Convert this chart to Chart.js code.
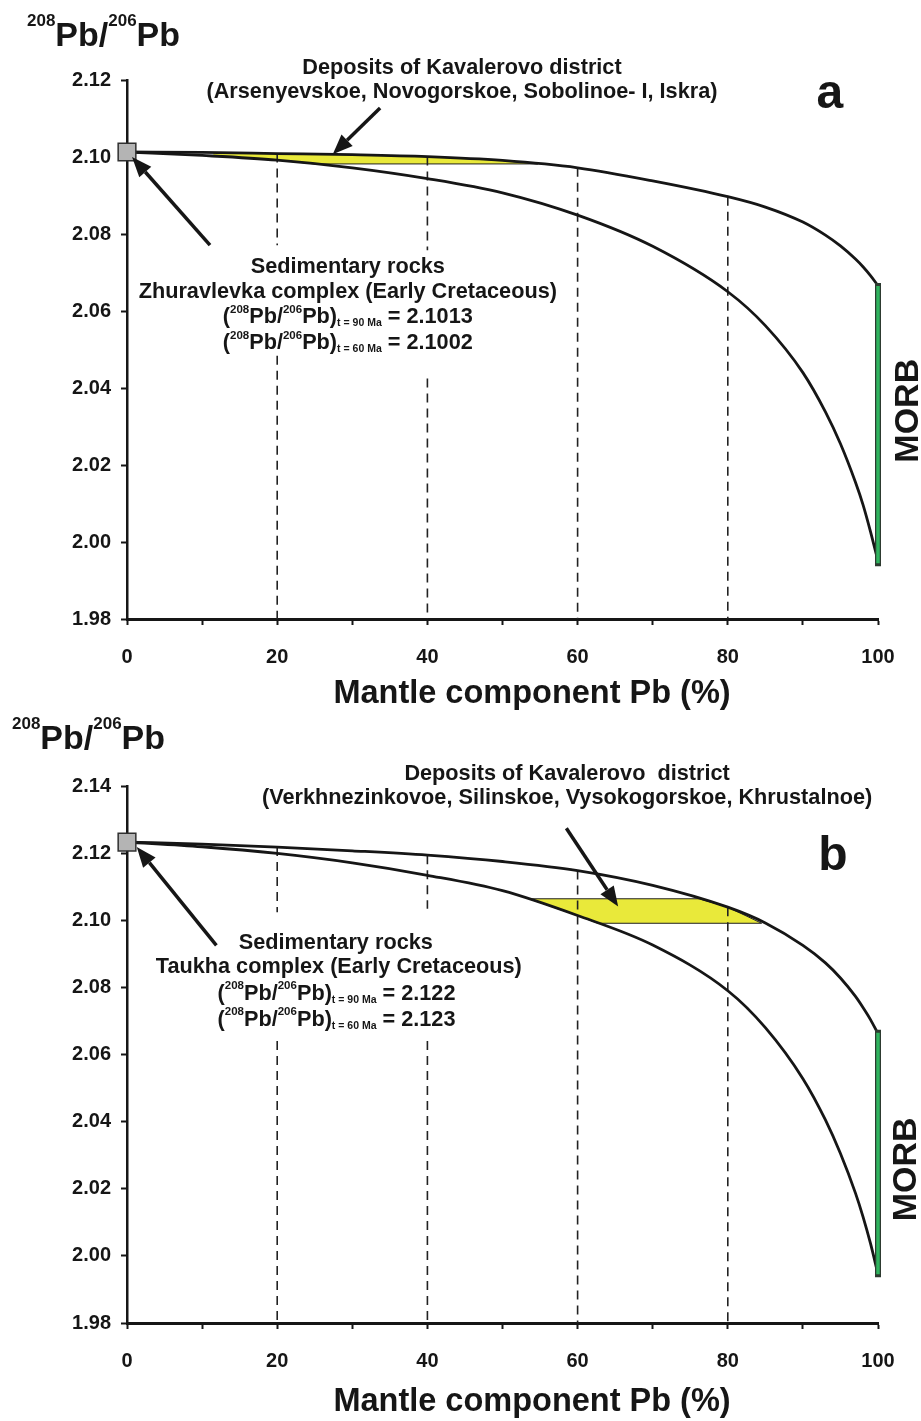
<!DOCTYPE html>
<html>
<head>
<meta charset="utf-8">
<script src="https://cdn.jsdelivr.net/npm/chart.js@4.4.1/dist/chart.umd.min.js"></script>
<style>
  body { margin: 0; background: #fff; }
  canvas { display: block; }
</style>
</head>
<body>
<canvas id="chartA" width="921" height="710"></canvas>
<canvas id="chartB" width="921" height="711"></canvas>
<script>
// ---- shared axis ticks
const xTicks  = [0, 10, 20, 30, 40, 50, 60, 70, 80, 90, 100];
const yTicksA = [1.98, 2.00, 2.02, 2.04, 2.06, 2.08, 2.10, 2.12];
const yTicksB = [1.98, 2.00, 2.02, 2.04, 2.06, 2.08, 2.10, 2.12, 2.14];

// ---- panel a: mixing curves
const startA  = 2.1013;
const upperAX = [0, 10, 20, 30, 40, 50, 60, 70, 80, 85, 90, 93, 95, 97, 98, 99, 100];
const upperAY = [2.1013, 2.1012, 2.1009, 2.1006, 2.1001, 2.0991, 2.0972, 2.0938, 2.0897, 2.0870, 2.0831, 2.0797, 2.0769, 2.0735, 2.0715, 2.0692, 2.0666];
const lowerAX = [0, 10, 20, 30, 40, 50, 60, 70, 80, 85, 90, 93, 95, 97, 98, 99, 100];
const lowerAY = [2.1013, 2.1004, 2.0992, 2.0972, 2.0944, 2.0907, 2.0849, 2.0768, 2.0650, 2.0562, 2.0440, 2.0338, 2.0255, 2.0155, 2.0097, 2.0027, 1.9950];
const fieldAX = [11.5, 20, 30, 40, 50, 54.7, 25, 20, 11.5];
const fieldAY = [2.1011, 2.1009, 2.1006, 2.1001, 2.0991, 2.0982, 2.0982, 2.0992, 2.1003];
const dashXA   = [20, 40, 60, 80];
const dashGapA = [[2.0771, 2.0484], [2.0758, 2.0425], null, null];
const ratiosA  = [['90', '2.1013'], ['60', '2.1002']];

// ---- panel b
const startB  = 2.1233;
const upperBX = [0, 10, 20, 30, 40, 50, 60, 70, 80, 85, 90, 93, 95, 97, 98, 99, 100];
const upperBY = [2.1233, 2.1227, 2.1218, 2.1207, 2.1194, 2.1175, 2.1148, 2.1104, 2.1039, 2.0992, 2.0925, 2.0873, 2.0828, 2.0773, 2.0740, 2.0704, 2.0662];
const lowerBX = [0, 10, 20, 30, 40, 50, 60, 70, 80, 85, 90, 93, 95, 97, 98, 99, 100];
const lowerBY = [2.1233, 2.1219, 2.1199, 2.1171, 2.1134, 2.1088, 2.1014, 2.0926, 2.0790, 2.0680, 2.0528, 2.0405, 2.0305, 2.0187, 2.0117, 2.0037, 1.9945];
const fieldBX = [53.5, 76.2, 80, 84.5, 62.7, 60, 53.5];
const fieldBY = [2.1064, 2.1064, 2.1039, 2.0991, 2.0991, 2.1014, 2.1064];
const dashXB   = [20, 40, 60, 80];
const dashGapB = [[2.1024, 2.0640], [2.1034, 2.0640], null, null];
const ratiosB  = [['90', '2.122'], ['60', '2.123']];

// MORB range at 100 % mantle
const morbY = [2.0665, 1.9945];

const INK = '#161616';
const FONT = '"Liberation Sans", Arial, Helvetica, sans-serif';
const NOTE = 21.7;
Chart.defaults.font.family = FONT;
Chart.defaults.color = INK;

const pts = (xs, ys) => xs.map((x, i) => ({x: x, y: ys[i]}));

function ratioRuns(age, val) {
  return [
    {t: '(', s: NOTE}, {t: '208', s: 11.5, dy: -10.5}, {t: 'Pb/', s: NOTE},
    {t: '206', s: 11.5, dy: -10.5}, {t: 'Pb)', s: NOTE},
    {t: 't = ' + age + ' Ma', s: 10.5, dy: 3}, {t: ' = ' + val, s: NOTE}
  ];
}

function drawRuns(ctx, runs, x, base, align) {
  let w = 0;
  runs.forEach(r => { ctx.font = 'bold ' + r.s + 'px ' + FONT; r.w = ctx.measureText(r.t).width; w += r.w; });
  let cx = align === 'left' ? x : x - w / 2;
  runs.forEach(r => {
    ctx.font = 'bold ' + r.s + 'px ' + FONT;
    ctx.fillText(r.t, cx, base + (r.dy || 0));
    cx += r.w;
  });
}

function drawArrow(ctx, x1, y1, x2, y2) {
  const a = Math.atan2(y2 - y1, x2 - x1), head = 20, half = 8;
  const bx = x2 - head * Math.cos(a), by = y2 - head * Math.sin(a);
  ctx.lineWidth = 3.5;
  ctx.beginPath(); ctx.moveTo(x1, y1); ctx.lineTo(bx, by); ctx.stroke();
  ctx.beginPath();
  ctx.moveTo(x2, y2);
  ctx.lineTo(bx + half * Math.sin(a), by - half * Math.cos(a));
  ctx.lineTo(bx - half * Math.sin(a), by + half * Math.cos(a));
  ctx.closePath(); ctx.fill();
}

// annotations: arrows + labels, placed in data units
function makeNotes(cfg) {
  return {
    id: 'notes',
    afterDraw(chart) {
      const ctx = chart.ctx, xs = chart.scales.x, ys = chart.scales.y;
      ctx.save();
      ctx.fillStyle = INK; ctx.strokeStyle = INK;
      cfg.arrows.forEach(a => drawArrow(ctx,
        xs.getPixelForValue(a[0]), ys.getPixelForValue(a[1]),
        xs.getPixelForValue(a[2]), ys.getPixelForValue(a[3])));
      ctx.textBaseline = 'alphabetic';
      cfg.labels.forEach(l => {
        const size = l.size || NOTE;
        const px = xs.getPixelForValue(l.x), py = ys.getPixelForValue(l.y);
        const runs = l.runs || [{t: l.text, s: size}];
        if (l.rotate) {
          ctx.save();
          ctx.translate(px, py);
          ctx.rotate(-Math.PI / 2);
          drawRuns(ctx, runs, 0, 0.358 * size, 'center');
          ctx.restore();
        } else {
          drawRuns(ctx, runs, px, py + 0.358 * size, 'center');
        }
      });
      // axis titles
      const yt = cfg.yTitle;
      drawRuns(ctx, [{t: '208', s: 17, dy: -20}, {t: 'Pb/', s: 34}, {t: '206', s: 17, dy: -20}, {t: 'Pb', s: 34}],
        yt[0], yt[1], 'left');
      drawRuns(ctx, [{t: 'Mantle component Pb (%)', s: 32.5}], cfg.xTitle[0], cfg.xTitle[1], 'center');
      ctx.restore();
    }
  };
}

function panelDatasets(p) {
  const line = {pointRadius: 0, pointHoverRadius: 0, clip: false, fill: false};
  const sets = [];
  sets.push({data: [{x: 0, y: p.start}], pointStyle: 'rect', pointRadius: 12.5,
    backgroundColor: '#b4b4b4', borderColor: '#303030', borderWidth: 1.5, showLine: false, clip: false});
  sets.push(Object.assign({}, line, {data: pts([100, 100], morbY), borderColor: '#2fb35e', borderWidth: 3.5}));
  sets.push(Object.assign({}, line, {data: pts([100, 100], morbY), borderColor: '#2d3a30', borderWidth: 6, borderCapStyle: 'square'}));
  sets.push(Object.assign({}, line, {data: pts(p.upperX, p.upperY), borderColor: INK, borderWidth: 2.8, cubicInterpolationMode: 'monotone'}));
  sets.push(Object.assign({}, line, {data: pts(p.lowerX, p.lowerY), borderColor: INK, borderWidth: 2.8, cubicInterpolationMode: 'monotone'}));
  p.dashX.forEach((x, i) => {
    const top = p.upperY[p.upperX.indexOf(x)], gap = p.dashGap[i], bottom = p.yTicks[0];
    const d = gap ? [{x: x, y: top}, {x: x, y: gap[0]}, {x: x, y: null}, {x: x, y: gap[1]}, {x: x, y: bottom}]
                  : [{x: x, y: top}, {x: x, y: bottom}];
    sets.push(Object.assign({}, line, {data: d, borderColor: '#222', borderWidth: 1.6, borderDash: [9, 6]}));
  });
  sets.push(Object.assign({}, line, {data: pts(p.fieldX, p.fieldY), fill: 'shape',
    backgroundColor: '#e9e93a', borderColor: '#222', borderWidth: 1}));
  return sets;
}

function makeChart(id, p, padTop, xAxisH, notes) {
  return new Chart(document.getElementById(id), {
    type: 'line',
    data: {datasets: panelDatasets(p)},
    options: {
      responsive: false,
      animation: false,
      devicePixelRatio: 1,
      events: [],
      layout: {padding: {top: padTop, right: 43, left: 0, bottom: 0}},
      plugins: {legend: {display: false}, tooltip: {enabled: false}},
      scales: {
        x: {
          type: 'linear', min: 0, max: 100,
          afterBuildTicks: s => { s.ticks = xTicks.map(v => ({value: v})); },
          afterFit: s => { s.height = xAxisH; },
          ticks: {callback: v => (v % 20 === 0 ? String(v) : ''), color: INK,
            font: {size: 20, weight: 'bold'}, padding: 20, maxRotation: 0, autoSkip: false},
          grid: {drawOnChartArea: false, drawTicks: true, tickLength: 6, tickWidth: 2, tickColor: INK},
          border: {display: true, color: INK, width: 3}
        },
        y: {
          type: 'linear', min: p.yTicks[0], max: p.yTicks[p.yTicks.length - 1],
          afterBuildTicks: s => { s.ticks = p.yTicks.map(v => ({value: v})); },
          afterFit: s => { s.width = 127; },
          ticks: {callback: v => v.toFixed(2), color: INK, font: {size: 20, weight: 'bold'}, padding: 10},
          grid: {drawOnChartArea: false, drawTicks: true, tickLength: 6, tickWidth: 2, tickColor: INK},
          border: {display: true, color: INK, width: 2.5}
        }
      }
    },
    plugins: [makeNotes(notes)]
  });
}

makeChart('chartA', {
  start: startA, upperX: upperAX, upperY: upperAY, lowerX: lowerAX, lowerY: lowerAY,
  fieldX: fieldAX, fieldY: fieldAY, dashX: dashXA, dashGap: dashGapA, yTicks: yTicksA
}, 80, 91, {
  arrows: [[33.7, 2.1127, 27.4, 2.1007], [11.05, 2.0771, 0.67, 2.1000]],
  labels: [
    {x: 44.6, y: 2.1236, text: 'Deposits of Kavalerovo district'},
    {x: 44.6, y: 2.1174, text: '(Arsenyevskoe, Novogorskoe, Sobolinoe- I, Iskra)'},
    {x: 29.4, y: 2.0719, text: 'Sedimentary rocks'},
    {x: 29.4, y: 2.0654, text: 'Zhuravlevka complex (Early Cretaceous)'},
    {x: 29.4, y: 2.0589, runs: ratioRuns(ratiosA[0][0], ratiosA[0][1])},
    {x: 29.4, y: 2.0521, runs: ratioRuns(ratiosA[1][0], ratiosA[1][1])},
    {x: 93.6, y: 2.1171, text: 'a', size: 48},
    {x: 103.7, y: 2.0341, text: 'MORB', size: 34, rotate: true}
  ],
  yTitle: [27, 46], xTitle: [532, 703]
});

makeChart('chartB', {
  start: startB, upperX: upperBX, upperY: upperBY, lowerX: lowerBX, lowerY: lowerBY,
  fieldX: fieldBX, fieldY: fieldBY, dashX: dashXB, dashGap: dashGapB, yTicks: yTicksB
}, 76, 98, {
  arrows: [[58.5, 2.1274, 65.4, 2.1041], [11.9, 2.0925, 1.3, 2.1218]],
  labels: [
    {x: 58.6, y: 2.1442, text: 'Deposits of Kavalerovo  district'},
    {x: 58.6, y: 2.1370, text: '(Verkhnezinkovoe, Silinskoe, Vysokogorskoe, Khrustalnoe)'},
    {x: 27.8, y: 2.0937, text: 'Sedimentary rocks'},
    {x: 28.2, y: 2.0865, text: 'Taukha complex (Early Cretaceous)'},
    {x: 27.9, y: 2.0787, runs: ratioRuns(ratiosB[0][0], ratiosB[0][1])},
    {x: 27.9, y: 2.0709, runs: ratioRuns(ratiosB[1][0], ratiosB[1][1])},
    {x: 94.0, y: 2.1200, text: 'b', size: 48},
    {x: 103.5, y: 2.0258, text: 'MORB', size: 34, rotate: true}
  ],
  yTitle: [12, 39], xTitle: [532, 701]
});
</script>
</body>
</html>
